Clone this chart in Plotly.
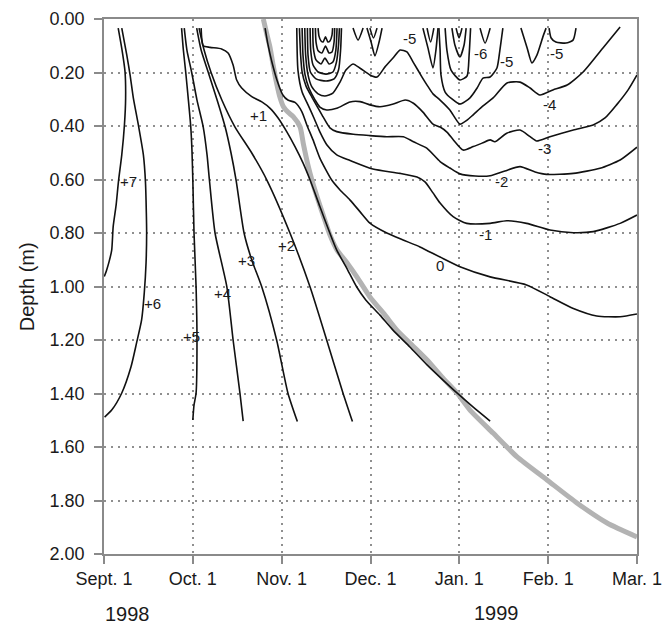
import plotly.graph_objects as go

# ---- axes ----
month_ticks = [0, 30, 60, 90, 120, 150, 180]
month_labels = ["Sept. 1", "Oct. 1", "Nov. 1", "Dec. 1", "Jan. 1", "Feb. 1", "Mar. 1"]
depth_ticks = [0.0, 0.2, 0.4, 0.6, 0.8, 1.0, 1.2, 1.4, 1.6, 1.8, 2.0]

# ---- isotherms (x: days since Sept. 1, y: depth in m) ----
p7_day = [4.8, 6.0, 7.1, 7.3, 6.9, 6.0, 4.9, 4.1, 3.1, 2.6, 1.7, 0.9, 0.1]
p7_depth = [0.034, 0.110, 0.197, 0.296, 0.396, 0.508, 0.606, 0.695, 0.776, 0.864, 0.908, 0.938, 0.963]

p6_day = [6.0, 7.7, 8.8, 9.9, 11.6, 13.3, 14.0, 14.3, 14.4, 14.2, 13.6, 12.7, 11.0, 9.1, 6.0, 2.6, 0.2]
p6_depth = [0.034, 0.135, 0.209, 0.295, 0.396, 0.508, 0.609, 0.725, 0.8, 0.912, 1.024, 1.125, 1.211, 1.301, 1.398, 1.462, 1.488]

p5_day = [26.2, 26.8, 27.6, 28.5, 29.3, 29.7, 30.0, 30.4, 31.1, 31.4, 31.1, 30.4, 30.0]
p5_depth = [0.034, 0.116, 0.199, 0.303, 0.403, 0.49, 0.602, 0.8, 1.002, 1.2, 1.398, 1.443, 1.499]

p4_day = [27.1, 28.0, 29.6, 31.4, 33.5, 34.8, 35.6, 37.5, 41.5, 43.6, 45.9, 47.0]
p4_depth = [0.034, 0.116, 0.199, 0.303, 0.403, 0.508, 0.602, 0.8, 1.002, 1.2, 1.398, 1.503]

p3_day = [31.3, 32.8, 35.2, 38.2, 40.9, 42.9, 44.6, 47.3, 49.9, 53.3, 58.3, 62.1, 65.3]
p3_depth = [0.034, 0.116, 0.199, 0.303, 0.403, 0.501, 0.602, 0.8, 0.901, 1.002, 1.2, 1.398, 1.505]

p2_day = [32.1, 33.8, 36.1, 39.8, 44.2, 49.9, 55.0, 62.8, 69.6, 75.2, 80.7, 83.9]
p2_depth = [0.034, 0.116, 0.198, 0.303, 0.403, 0.501, 0.602, 0.8, 1.002, 1.2, 1.398, 1.505]

p1_day = [32.8, 33.5, 35.8, 39.7, 41.9, 43.6, 44.8, 46.5, 49.9, 53.3, 56.1, 58.8, 61.7, 64.5, 67.2,
          69.6, 72.9, 76.3, 78.6, 82.0, 85.3, 88.4, 93.2, 97.6, 103.3, 109.1, 114.5, 119.2, 124.6, 130.4]
p1_depth = [0.034, 0.1, 0.106, 0.112, 0.127, 0.172, 0.228, 0.258, 0.29, 0.31, 0.334, 0.37, 0.421, 0.477, 0.538,
            0.602, 0.701, 0.801, 0.864, 0.932, 1.001, 1.05, 1.107, 1.163, 1.226, 1.293, 1.35, 1.398, 1.45, 1.503]

z0_day = [54.4, 55.4, 56.7, 58.4, 60.4, 62.1, 64.5, 66.8, 68.5, 70.6, 72.9, 76.9, 79.7, 83.1, 86.5, 89.8,
          95.5, 101.0, 106.7, 113.5, 120.2, 130.4, 142.7, 150.6, 158.5, 166.4, 174.3, 180.0]
z0_depth = [0.034, 0.097, 0.161, 0.228, 0.284, 0.303, 0.312, 0.346, 0.396, 0.452, 0.52, 0.602, 0.639, 0.677, 0.721, 0.763,
            0.8, 0.826, 0.852, 0.89, 0.926, 0.964, 0.994, 1.038, 1.082, 1.11, 1.113, 1.103]

m1_day = [65.1, 65.5, 66.9, 68.9, 70.9, 72.9, 75.3, 78.6, 83.1, 90.8, 100.0, 105.7, 108.4, 111.1, 113.5,
          117.9, 122.5, 130.4, 136.0, 142.7, 150.6, 158.5, 165.2, 174.3, 180.0]
m1_depth = [0.034, 0.191, 0.273, 0.321, 0.37, 0.422, 0.471, 0.508, 0.529, 0.561, 0.577, 0.591, 0.609, 0.65, 0.688,
            0.739, 0.764, 0.764, 0.754, 0.764, 0.789, 0.799, 0.795, 0.764, 0.733]

m2_day = [66.0, 66.4, 66.9, 68.2, 70.2, 72.3, 74.0, 76.3, 78.6, 84.2, 89.8, 95.5, 101.1, 104.5, 109.0, 113.5,
          116.8, 120.2, 125.3, 130.4, 135.4, 140.5, 145.6, 149.5, 158.5, 167.5, 174.3, 180.0]
m2_depth = [0.034, 0.135, 0.198, 0.25, 0.292, 0.333, 0.366, 0.407, 0.421, 0.431, 0.436, 0.44, 0.44, 0.459, 0.483, 0.533,
            0.557, 0.579, 0.587, 0.586, 0.568, 0.552, 0.572, 0.581, 0.577, 0.558, 0.527, 0.479]

m3_day = [66.9, 67.2, 67.9, 69.2, 71.3, 72.9, 75.2, 78.6, 83.1, 86.5, 89.8, 93.2, 97.7, 101.7, 104.5, 107.7, 111.1, 113.5,
          115.8, 118.0, 121.3, 124.7, 127.7, 130.4, 132.0, 136.0, 140.5, 143.9, 146.1, 150.6, 158.5, 165.2, 169.2, 173.1, 177.0, 180.0]
m3_depth = [0.034, 0.135, 0.209, 0.258, 0.303, 0.329, 0.34, 0.334, 0.31, 0.309, 0.321, 0.328, 0.318, 0.303, 0.315, 0.348, 0.393, 0.404,
            0.423, 0.452, 0.49, 0.477, 0.464, 0.452, 0.459, 0.427, 0.415, 0.44, 0.456, 0.44, 0.415, 0.396, 0.37, 0.321, 0.265, 0.209]

m4_day = [67.8, 68.1, 68.9, 70.2, 72.3, 74.6, 77.3, 79.7, 81.7, 84.1, 86.5, 89.8, 92.2, 94.9, 97.6, 100.0, 102.3, 104.4, 107.4, 109.1,
          111.1, 113.5, 116.8, 120.2, 122.6, 124.6, 128.0, 131.4, 136.1, 140.5, 143.9, 147.2, 151.6, 156.4, 161.8, 168.5, 174.3]
m4_depth = [0.034, 0.135, 0.209, 0.254, 0.28, 0.288, 0.277, 0.236, 0.191, 0.168, 0.184, 0.209, 0.217, 0.179, 0.146, 0.116, 0.123, 0.161, 0.217, 0.247,
            0.28, 0.303, 0.34, 0.393, 0.378, 0.359, 0.325, 0.295, 0.239, 0.236, 0.258, 0.284, 0.265, 0.247, 0.198, 0.108, 0.03]

# cold cell near the surface in early November
c5_day = [68.7, 68.9, 69.7, 71.6, 75.0, 77.7, 79.2, 79.9, 80.2]
c5_depth = [0.034, 0.135, 0.198, 0.224, 0.232, 0.224, 0.191, 0.116, 0.034]
c6_day = [69.6, 69.8, 70.6, 72.3, 75.0, 77.3, 78.5, 79.2, 79.5]
c6_depth = [0.034, 0.116, 0.172, 0.198, 0.206, 0.198, 0.161, 0.097, 0.034]
c7_day = [70.5, 70.7, 71.6, 73.3, 74.6, 76.0, 77.3, 78.3, 78.7]
c7_depth = [0.034, 0.108, 0.153, 0.168, 0.146, 0.168, 0.161, 0.116, 0.034]
c8_day = [71.4, 71.6, 72.4, 73.6, 74.8, 76.0, 77.0, 77.7, 77.9]
c8_depth = [0.034, 0.086, 0.12, 0.127, 0.101, 0.127, 0.123, 0.086, 0.034]
c9_day = [72.3, 72.6, 73.3, 74.0, 74.8, 75.6, 76.3, 77.0, 77.2]
c9_depth = [0.034, 0.064, 0.082, 0.086, 0.067, 0.086, 0.082, 0.06, 0.034]

# small near-surface cold pockets (Nov.-Feb.)
va_day = [84.1, 85.8, 87.5]
va_depth = [0.034, 0.079, 0.034]
vb_day = [88.8, 90.2, 91.5, 92.9, 93.9]
vb_depth = [0.034, 0.086, 0.138, 0.086, 0.034]
vbi_day = [89.8, 91.0, 92.2]
vbi_depth = [0.034, 0.071, 0.034]
vc_day = [107.7, 109.4, 111.1, 112.1, 112.8]
vc_depth = [0.034, 0.108, 0.183, 0.116, 0.034]
vci_day = [109.1, 110.3, 111.4]
vci_depth = [0.034, 0.086, 0.034]
m5_day = [113.1, 113.5, 113.8, 115.2, 117.5, 120.2, 123.6, 126.0, 128.0, 130.4, 132.7, 133.7, 134.7]
m5_depth = [0.034, 0.116, 0.209, 0.273, 0.299, 0.318, 0.295, 0.258, 0.221, 0.217, 0.183, 0.116, 0.034]
m6_day = [115.2, 115.8, 117.2, 120.2, 122.6, 123.3, 123.8]
m6_depth = [0.034, 0.116, 0.191, 0.228, 0.213, 0.135, 0.034]
m7_day = [117.5, 118.5, 120.2, 121.6, 122.3]
m7_depth = [0.034, 0.097, 0.142, 0.097, 0.034]
m8_day = [118.9, 119.9, 120.9]
m8_depth = [0.034, 0.071, 0.034]
vd_day = [127.0, 128.7, 130.4]
vd_depth = [0.034, 0.09, 0.034]
ve_day = [140.8, 142.9, 144.5, 146.2, 148.3, 149.3]
ve_depth = [0.034, 0.108, 0.164, 0.135, 0.064, 0.034]
vf_day = [150.3, 151.0, 152.6, 156.0, 158.4, 159.4]
vf_depth = [0.034, 0.071, 0.086, 0.09, 0.079, 0.034]

# ---- frost line (grey) ----
frost_day = [53.8, 54.9, 56.1, 57.1, 58.3, 59.4, 60.6, 62.1, 63.9, 66.2, 67.3, 69.0, 70.2, 72.3, 74.0, 76.3, 78.7,
             82.1, 85.4, 89.8, 94.9, 98.9, 104.0, 109.1, 114.1, 119.2, 123.6, 131.4, 139.5, 149.6, 159.7, 169.9, 180.0]
frost_depth = [0.0, 0.053, 0.108, 0.172, 0.240, 0.292, 0.328, 0.348, 0.365, 0.403, 0.465, 0.552, 0.602, 0.677, 0.733, 0.807, 0.864,
               0.912, 0.964, 1.039, 1.107, 1.163, 1.219, 1.275, 1.338, 1.398, 1.462, 1.548, 1.637, 1.723, 1.809, 1.884, 1.936]

# ---- isotherm labels ----
label_text = ["+7", "+6", "+5", "+4", "+3", "+2", "+1", "0", "-1", "-2", "-3", "-4", "-5", "-6", "-5", "-5"]
label_day = [8.2, 16.4, 29.6, 40.1, 48.2, 61.5, 52.1, 113.5, 128.7, 134.3, 148.9, 150.4, 103.3, 127.0, 136.0, 152.9]
label_depth = [0.608, 1.063, 1.188, 1.025, 0.901, 0.845, 0.359, 0.92, 0.807, 0.608, 0.483, 0.321, 0.072, 0.128, 0.16, 0.128]

isotherms = [
    (p7_day, p7_depth), (p6_day, p6_depth), (p5_day, p5_depth), (p4_day, p4_depth),
    (p3_day, p3_depth), (p2_day, p2_depth), (p1_day, p1_depth), (z0_day, z0_depth),
    (m1_day, m1_depth), (m2_day, m2_depth), (m3_day, m3_depth), (m4_day, m4_depth),
    (c5_day, c5_depth), (c6_day, c6_depth), (c7_day, c7_depth), (c8_day, c8_depth), (c9_day, c9_depth),
    (va_day, va_depth), (vb_day, vb_depth), (vbi_day, vbi_depth), (vc_day, vc_depth), (vci_day, vci_depth),
    (m5_day, m5_depth), (m6_day, m6_depth), (m7_day, m7_depth), (m8_day, m8_depth),
    (vd_day, vd_depth), (ve_day, ve_depth), (vf_day, vf_depth),
]

FONT = "Liberation Sans, Arial, sans-serif"
TXT = "#1a1a1a"

fig = go.Figure()

fig.add_trace(go.Scatter(x=frost_day, y=frost_depth, mode="lines",
                         line=dict(color="#b3b3b3", width=5, shape="spline", smoothing=0.6),
                         hoverinfo="skip", showlegend=False))

for xs, ys in isotherms:
    fig.add_trace(go.Scatter(x=xs, y=ys, mode="lines",
                             line=dict(color="#111111", width=1.6, shape="spline", smoothing=0.6),
                             hoverinfo="skip", showlegend=False))

for t, d, z in zip(label_text, label_day, label_depth):
    fig.add_annotation(x=d, y=z, text=t, showarrow=False, xref="x", yref="y",
                       xanchor="center", yanchor="middle",
                       font=dict(family=FONT, size=15, color=TXT))

fig.add_annotation(x=-0.145, y=0.5, xref="paper", yref="paper", text="Depth (m)", textangle=-90,
                   xanchor="center", yanchor="middle",
                   showarrow=False, font=dict(family=FONT, size=20, color=TXT))
fig.add_annotation(x=7.9, y=-0.112, xref="x", yref="paper", text="1998", showarrow=False,
                   xanchor="center", yanchor="middle",
                   font=dict(family=FONT, size=20, color=TXT))
fig.add_annotation(x=132.6, y=-0.110, xref="x", yref="paper", text="1999", showarrow=False,
                   xanchor="center", yanchor="middle",
                   font=dict(family=FONT, size=20, color=TXT))

axis_common = dict(showline=True, linecolor="#8a8a8a", linewidth=1.5, mirror=True,
                   ticks="outside", ticklen=8, tickcolor="#8a8a8a", tickwidth=1.5,
                   showgrid=True, gridcolor="#8f8f8f", griddash="2px,5px", gridwidth=1.5,
                   zeroline=False, automargin=False,
                   tickfont=dict(family=FONT, size=18, color=TXT))

fig.update_xaxes(range=[0, 180], tickvals=month_ticks, ticktext=month_labels, **axis_common)
fig.update_yaxes(range=[2.0, 0.0], tickvals=depth_ticks, tickformat=".2f",
                 ticklabelstandoff=6, **axis_common)

fig.update_layout(width=672, height=625, margin=dict(l=104, r=35, t=19, b=71),
                  plot_bgcolor="white", paper_bgcolor="white", showlegend=False)

fig.write_html("out.html", config={"displayModeBar": False},
               post_script="document.body.style.margin='0';document.body.style.padding='0';")
